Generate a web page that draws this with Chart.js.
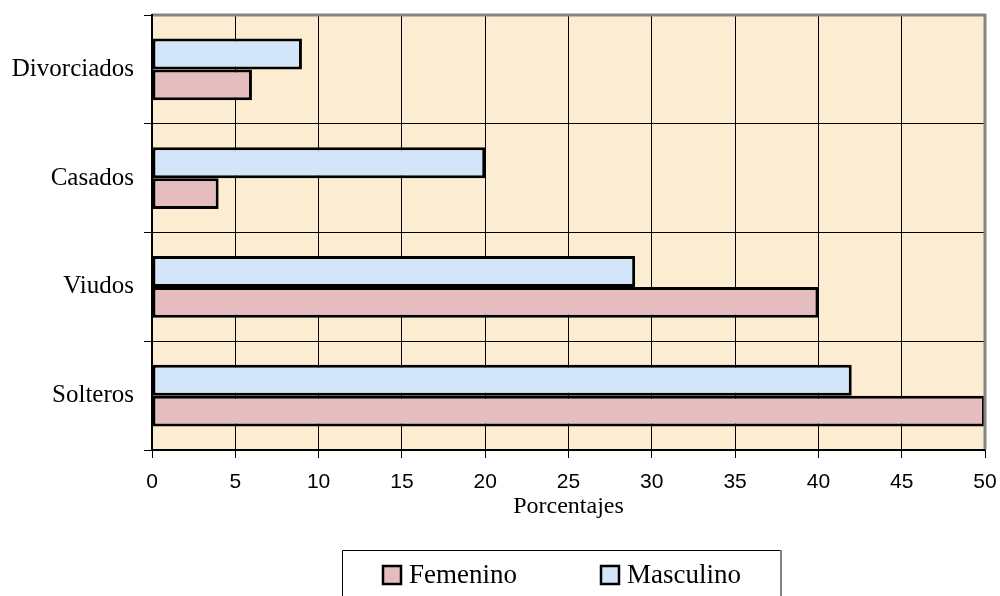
<!DOCTYPE html>
<html>
<head>
<meta charset="utf-8">
<script src="https://cdn.jsdelivr.net/npm/chart.js@4/dist/chart.umd.min.js"></script>
<style>
  html, body { margin: 0; padding: 0; background: #ffffff; }
  #wrap { width: 1000px; height: 596px; position: relative; }
</style>
</head>
<body>
<div id="wrap"><canvas id="c" width="1000" height="596"></canvas></div>
<script>
// Estado civil por sexo (porcentajes)
const categories = ['Divorciados', 'Casados', 'Viudos', 'Solteros'];
const masculino = [9, 20, 29, 42];
const femenino = [6, 4, 40, 50];
const xTicks = [0, 5, 10, 15, 20, 25, 30, 35, 40, 45, 50];
const xTitle = 'Porcentajes';

const COL_BG = '#FCEDD2';
const COL_FEM = '#E6BDBF';
const COL_MAS = '#D3E5F8';

// plot background and the grey frame on top/right
const framePlugin = {
  id: 'frame',
  beforeDraw(chart) {
    const a = chart.chartArea, ctx = chart.ctx;
    ctx.save();
    ctx.fillStyle = COL_BG;
    ctx.fillRect(a.left, a.top, a.right - a.left, a.bottom - a.top);
    ctx.restore();
  },
  afterDatasetsDraw(chart) {
    const a = chart.chartArea, ctx = chart.ctx;
    ctx.save();
    ctx.strokeStyle = '#858585';
    ctx.lineWidth = 3;
    ctx.beginPath();
    ctx.moveTo(a.left, a.top);
    ctx.lineTo(a.right, a.top);
    ctx.lineTo(a.right, a.bottom);
    ctx.stroke();
    // left and bottom axis lines
    ctx.strokeStyle = '#000';
    ctx.lineWidth = 2;
    ctx.beginPath();
    ctx.moveTo(a.left, a.top - 1);
    ctx.lineTo(a.left, a.bottom);
    ctx.lineTo(a.right, a.bottom);
    ctx.stroke();
    ctx.restore();
  }
};

// boxed legend below the axis title
const legendBox = {
  id: 'legendBox',
  afterDraw(chart) {
    const ctx = chart.ctx;
    const box = { x: 342, y: 550, w: 439, h: 60 };
    ctx.save();
    ctx.fillStyle = '#fff';
    ctx.fillRect(box.x, box.y, box.w, box.h);
    ctx.strokeStyle = '#000';
    ctx.lineWidth = 1;
    ctx.beginPath();
    ctx.moveTo(box.x + 0.5, box.y + box.h);
    ctx.lineTo(box.x + 0.5, box.y + 0.5);
    ctx.lineTo(box.x + box.w, box.y + 0.5);
    ctx.stroke();
    ctx.strokeStyle = '#808080';
    ctx.lineWidth = 2;
    ctx.beginPath();
    ctx.moveTo(box.x + box.w, box.y);
    ctx.lineTo(box.x + box.w, box.y + box.h);
    ctx.stroke();

    const order = [1, 0]; // Femenino, Masculino
    const itemX = [383, 601];
    ctx.font = '27px "Liberation Serif", "Times New Roman", serif';
    ctx.textBaseline = 'middle';
    ctx.textAlign = 'left';
    order.forEach((di, k) => {
      const ds = chart.data.datasets[di];
      const bx = itemX[k], by = 566, s = 18;
      ctx.fillStyle = ds.backgroundColor;
      ctx.fillRect(bx, by, s, s);
      ctx.strokeStyle = '#000';
      ctx.lineWidth = 2.5;
      ctx.strokeRect(bx, by, s, s);
      ctx.fillStyle = '#000';
      ctx.fillText(ds.label, bx + 26, by + s / 2 + 1);
    });
    ctx.restore();
  }
};

new Chart(document.getElementById('c'), {
  type: 'bar',
  data: {
    labels: categories,
    datasets: [
      { label: 'Masculino', data: masculino, backgroundColor: COL_MAS, borderColor: '#000', borderWidth: 3, borderSkipped: false },
      { label: 'Femenino', data: femenino, backgroundColor: COL_FEM, borderColor: '#000', borderWidth: 3, borderSkipped: false }
    ]
  },
  options: {
    indexAxis: 'y',
    responsive: false,
    animation: false,
    devicePixelRatio: 1,
    categoryPercentage: 0.57,
    barPercentage: 1.0,
    layout: { padding: { left: 0, right: 15, top: 15, bottom: 71 } },
    plugins: {
      legend: { display: false },
      tooltip: { enabled: false }
    },
    scales: {
      x: {
        type: 'linear',
        min: 0,
        max: 50,
        afterBuildTicks(scale) { scale.ticks = xTicks.map(v => ({ value: v })); },
        afterFit(scale) {
          scale.height = 75;
          scale.paddingLeft = 0;
          scale.paddingRight = 0;
        },
        border: { display: false },
        grid: { color: '#000', lineWidth: 1, tickLength: 8, drawTicks: true },
        ticks: {
          color: '#000',
          padding: 12,
          maxRotation: 0,
          autoSkip: false,
          font: { family: '"Liberation Sans", Arial, sans-serif', size: 21 }
        },
        title: {
          display: true,
          text: xTitle,
          color: '#000',
          padding: { top: 0, bottom: 4 },
          font: { family: '"Liberation Serif", "Times New Roman", serif', size: 24 }
        }
      },
      y: {
        type: 'category',
        afterFit(scale) {
          scale.width = 152;
          scale.paddingTop = 0;
          scale.paddingBottom = 0;
        },
        border: { display: false },
        grid: { color: '#000', lineWidth: 1, tickLength: 8, offset: true },
        ticks: {
          color: '#000',
          padding: 10,
          font: { family: '"Liberation Serif", "Times New Roman", serif', size: 25 }
        }
      }
    }
  },
  plugins: [framePlugin, legendBox]
});
</script>
</body>
</html>
